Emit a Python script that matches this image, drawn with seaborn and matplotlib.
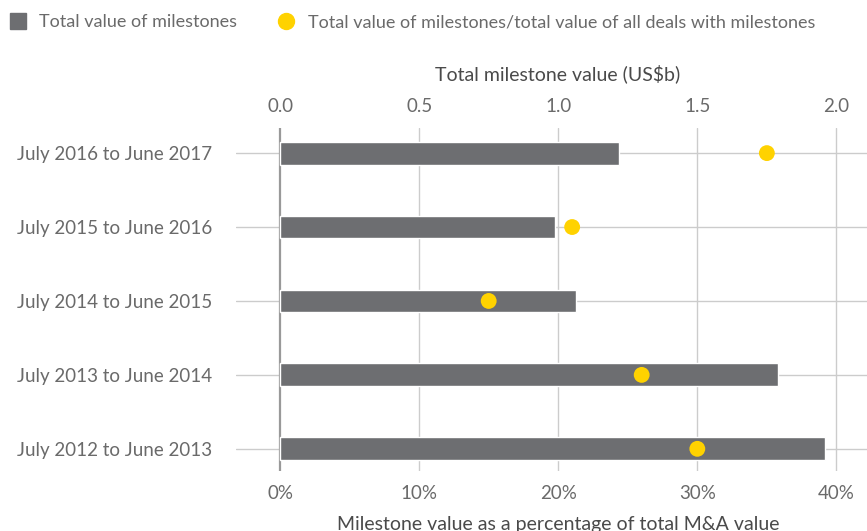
import numpy as np
import pandas as pd
import matplotlib
matplotlib.use("Agg")
import matplotlib.pyplot as plt
from matplotlib.lines import Line2D
import seaborn as sns

# data
periods = ["July 2016 to June 2017", "July 2015 to June 2016", "July 2014 to June 2015",
           "July 2013 to June 2014", "July 2012 to June 2013"]
milestone_value = [1.22, 0.99, 1.065, 1.79, 1.96]      # US$b (top axis)
milestone_pct = [35.0, 21.0, 15.0, 26.0, 30.0]          # % of total M&A value (bottom axis)
pct_ticks = [0, 10, 20, 30, 40]
value_ticks = [0.0, 0.5, 1.0, 1.5, 2.0]

df = pd.DataFrame({"period": periods, "value": milestone_value, "pct": milestone_pct})

GREY = "#6d6e71"
YELLOW = "#ffd200"
TEXT = "#6a6a6a"
LABEL = "#4a4a4a"
GRID = "#cccccc"

sns.set_style("white")
plt.rcParams["font.family"] = ["Lato", "DejaVu Sans"]

fig = plt.figure(figsize=(8.67, 5.31), dpi=100)
ax = fig.add_axes([0.2722, 0.113, 0.7278, 0.646])
ax2 = ax.twiny()

# bars on the US$b scale
sns.barplot(data=df, x="value", y="period", color=GREY, width=0.31, saturation=1,
            orient="h", ax=ax, zorder=3)
ax.set_xlim(-0.1585, 2.11)
ax.set_ylim(4.3, -0.34)
for t in value_ticks:
    ax.axvline(t, color="#999999" if t == 0 else GRID, lw=1.6 if t == 0 else 1, zorder=2)
for i in range(len(periods)):
    ax.axhline(i, color=GRID, lw=1, zorder=1)
ax.xaxis.tick_top()
ax.xaxis.set_label_position("top")
ax.set_xticks(value_ticks)
ax.set_xticklabels([f"{v:.1f}" for v in value_ticks])
ax.set_xlabel("Total milestone value (US$b)", fontsize=14, color=LABEL)
ax.xaxis.set_label_coords(0.51, 1.14)
ax.set_ylabel("")
ax.tick_params(axis="both", length=0, labelsize=13.5, colors=TEXT)
ax.tick_params(axis="x", pad=9)
ax.tick_params(axis="y", pad=17)
for s in ax.spines.values():
    s.set_visible(False)

# dots on the percentage scale
sns.scatterplot(data=df, x="pct", y="period", color=YELLOW, s=130, edgecolor="none",
                ax=ax2, zorder=5)
ax2.set_xlim(-3.17, 42.2)
ax2.xaxis.tick_bottom()
ax2.xaxis.set_label_position("bottom")
ax2.set_xticks(pct_ticks)
ax2.set_xticklabels([f"{p}%" for p in pct_ticks])
ax2.set_xlabel("Milestone value as a percentage of total M&A value", fontsize=14,
               color=LABEL)
ax2.xaxis.set_label_coords(0.51, -0.13)
ax2.tick_params(axis="x", length=0, labelsize=13.5, colors=TEXT, pad=10)
for s in ax2.spines.values():
    s.set_visible(False)

handles = [
    Line2D([], [], marker="s", color=GREY, linestyle="none", markersize=11.5),
    Line2D([], [], marker="o", color=YELLOW, linestyle="none", markersize=11.5),
]
fig.legend(handles, ["Total value of milestones",
                     "Total value of milestones/total value of all deals with milestones"],
           loc="upper left", bbox_to_anchor=(-0.017, 1.0), ncol=2, frameon=False,
           fontsize=13, labelcolor=TEXT, handletextpad=0.2, columnspacing=1.7,
           borderaxespad=0.4)

fig.savefig("out.png", dpi=100)
